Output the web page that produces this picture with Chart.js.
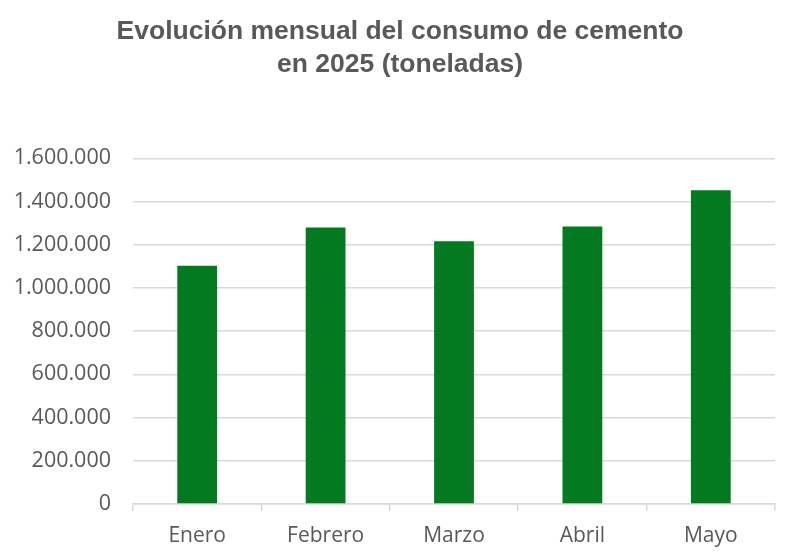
<!DOCTYPE html>
<html>
<head>
<meta charset="utf-8">
<script src="https://cdn.jsdelivr.net/npm/chart.js@4.4.1/dist/chart.umd.min.js"></script>
<style>
    html, body { margin: 0; padding: 0; background: #ffffff; }
    #wrap { width: 800px; height: 556px; }
</style>
</head>
<body>
<div id="wrap"><canvas id="myChart"></canvas></div>
<script>
// Data
const months = ['Enero', 'Febrero', 'Marzo', 'Abril', 'Mayo'];
const consumo = [1102000, 1279000, 1216000, 1284000, 1452000];
const titleLines = ['Evolución mensual del consumo de cemento', 'en 2025 (toneladas)'];

// 1600000 -> "1.600.000"
const formatMiles = (value) => {
    return String(Math.round(value)).replace(/\B(?=(\d{3})+(?!\d))/g, '.');
};

// center the title on the whole canvas, not on the padded box
const centerTitle = {
    id: 'centerTitle',
    afterLayout: function (chart) {
        if (chart.titleBlock) {
            chart.titleBlock.left = 0;
            chart.titleBlock.right = chart.width;
        }
    }
};

var ctx = document.getElementById('myChart').getContext('2d');

new Chart(ctx, {
    type: 'bar',
    data: {
        labels: months,
        datasets: [{
            label: 'Consumo',
            data: consumo,
            backgroundColor: '#037a20',
            borderWidth: 0,
            barPercentage: 0.31,
            categoryPercentage: 1
        }]
    },
    plugins: [centerTitle],
    options: {
        responsive: true,
        maintainAspectRatio: false,
        animation: false,
        layout: {
            padding: { top: 15, left: 8, right: 25, bottom: 1 }
        },
        plugins: {
            legend: { display: false },
            tooltip: { enabled: false },
            title: {
                display: true,
                text: titleLines,
                color: '#595959',
                font: { family: '"Liberation Sans", Arial, sans-serif', size: 26.5, weight: 'bold', lineHeight: 1.25 },
                padding: { top: 0, bottom: 77 }
            }
        },
        scales: {
            x: {
                afterFit: function (scale) {
                    scale.height = 51;
                },
                grid: {
                    display: true,
                    drawOnChartArea: false,
                    drawTicks: true,
                    tickLength: 7,
                    offset: true,
                    color: '#d9d9d9',
                    lineWidth: 1.5
                },
                border: { display: true, color: '#d9d9d9', width: 1.5 },
                ticks: {
                    color: '#595959',
                    padding: 12,
                    font: { family: '"Open Sans", sans-serif', size: 21 }
                }
            },
            y: {
                min: 0,
                max: 1600000,
                afterFit: function (scale) {
                    // keep the plot starting where the reference does
                    scale.width = 125;
                },
                grid: {
                    color: '#d9d9d9',
                    lineWidth: 1.5,
                    drawTicks: false
                },
                border: { display: false },
                ticks: {
                    stepSize: 200000,
                    color: '#595959',
                    padding: 22,
                    font: { family: '"Open Sans", sans-serif', size: 21.5 },
                    callback: function (value) {
                        return formatMiles(value);
                    }
                }
            }
        }
    }
});
</script>
</body>
</html>
